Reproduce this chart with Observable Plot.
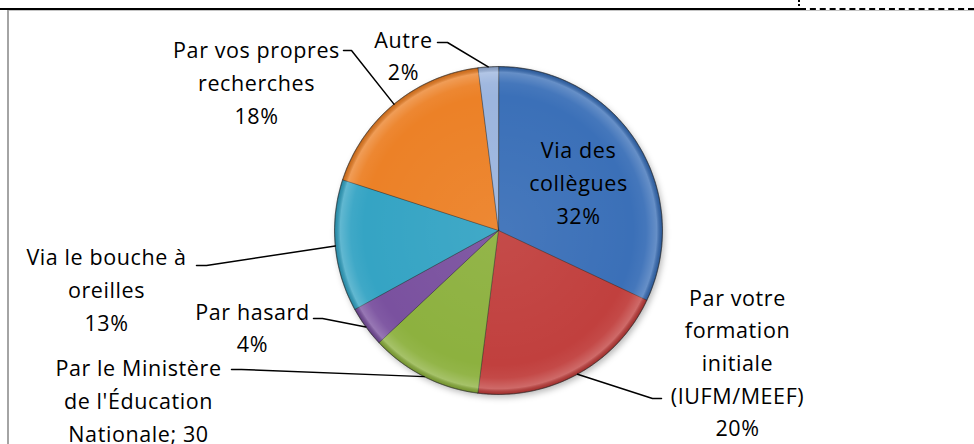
<!DOCTYPE html>
<html><head><meta charset="utf-8">
<script src="https://cdn.jsdelivr.net/npm/d3@7"></script>
<script src="https://cdn.jsdelivr.net/npm/@observablehq/plot@0.6"></script>
<style>
html,body{margin:0;padding:0;background:#fff;}
#wrap{position:relative;width:974px;height:444px;overflow:hidden;}
.fr{position:absolute;box-sizing:border-box;}
</style></head><body><div id="wrap"></div>
<script>
// ---- data ----
const categories = ["Via des collègues","Par votre formation initiale (IUFM/MEEF)","Par le Ministère de l'Éducation Nationale","Par hasard","Via le bouche à oreilles","Par vos propres recherches","Autre"];
const shares = [32, 20, 11, 4, 13, 18, 2];
const labelTexts = ["Via des\ncollègues\n32%","Par votre\nformation\ninitiale\n(IUFM/MEEF)\n20%","Par le Ministère\nde l'Éducation\nNationale; 30","Par hasard\n4%","Via le bouche à\noreilles\n13%","Par vos propres\nrecherches\n18%","Autre\n2%"];
const colors = ["#3b70b8","#c1403e","#8db13f","#7a519f","#35a4c4","#ec8127","#9cb5de"];

// ---- layout ----
const W = 974, H = 444, cx = 498, cy = 230, R = 164;
const labelPos = [[578,180],[737,360],[138,398],[252,325],[106,287],[256,80],[403,53]];
const leaderStart = [null,[661,398],[231,369],[313,318],[196,265],[343,50],[437,42]];
const leaderElbow = [null,[652,398],[241,369],[322,318],[206,265],[351,50],[447,42]];

const total = d3.sum(shares);
let acc = 0;
const slices = categories.map((c,i)=>{const a0 = acc/total*2*Math.PI; acc += shares[i]; const a1 = acc/total*2*Math.PI; return {c,i,a0,a1,am:(a0+a1)/2};});
const piePts = [];
for (const s of slices) {
  piePts.push({c:s.c, x:cx, y:cy});
  const n = Math.max(2, Math.ceil((s.a1-s.a0)/(Math.PI/360)));
  for (let k=0;k<=n;k++){const a = s.a0+(s.a1-s.a0)*k/n; piePts.push({c:s.c, x:cx+R*Math.sin(a), y:cy-R*Math.cos(a)});}
}
const leaderPts = [];
slices.forEach((s,i)=>{
  if(!leaderStart[i]) return;
  leaderPts.push({c:s.c,x:leaderStart[i][0],y:leaderStart[i][1]});
  leaderPts.push({c:s.c,x:leaderElbow[i][0],y:leaderElbow[i][1]});
  leaderPts.push({c:s.c,x:cx+R*Math.sin(s.am),y:cy-R*Math.cos(s.am)});
});
const labels = categories.map((c,i)=>({c, text:labelTexts[i], x:labelPos[i][0], y:labelPos[i][1]}));

const chart = Plot.plot({
  width: W, height: H, margin: 0,
  x: {type:"linear", domain:[0,W], range:[0,W], axis:null},
  y: {type:"linear", domain:[0,H], range:[0,H], axis:null},
  color: {domain: categories, range: colors},
  style: {background:"transparent", overflow:"visible"},
  marks: [
    Plot.dot([{x:cx,y:cy}], {x:"x", y:"y", r:R, dx:2, dy:3, fill:"#000", fillOpacity:0.28, stroke:"none"}),
    Plot.line(piePts, {x:"x", y:"y", z:"c", fill:"c", stroke:"#1a1a1a", strokeOpacity:0.45, strokeWidth:1, curve:"linear-closed"}),
    Plot.dot([{x:cx,y:cy}], {x:"x", y:"y", r:R, fill:"url(#bevel)", stroke:"#2a2a2a", strokeOpacity:0.35, strokeWidth:1}),
    Plot.line(leaderPts, {x:"x", y:"y", z:"c", stroke:"#000", strokeWidth:1.5}),
    Plot.text(labels, {x:"x", y:"y", text:"text", fontSize:21.5, lineHeight:1.52, fill:"#000", fontFamily:"'Open Sans', 'Noto Sans', sans-serif", textAnchor:"middle", lineAnchor:"middle"})
  ]
});
const svg = d3.select(chart);
svg.selectAll('g[aria-label="text"] text').style("letter-spacing","0.6px");
const defs = svg.insert("defs", ":first-child");
const g = defs.append("radialGradient").attr("id","bevel").attr("cx","50%").attr("cy","50%").attr("r","50%");
[[0,"#fff",0.06],[0.82,"#fff",0],[0.9,"#fff",0.05],[0.965,"#fff",0.22],[0.99,"#000",0.12],[1,"#000",0.25]].forEach(([o,c,a])=>g.append("stop").attr("offset",o).attr("stop-color",c).attr("stop-opacity",a));
const f = defs.append("filter").attr("id","blur").attr("x","-20%").attr("y","-20%").attr("width","140%").attr("height","140%");
f.append("feGaussianBlur").attr("stdDeviation",3);
svg.select('g[aria-label="dot"]').attr("filter","url(#blur)");

const wrap = document.getElementById("wrap");
wrap.appendChild(chart);
chart.style.position="absolute"; chart.style.left="0"; chart.style.top="0";
const frames = [
  "left:0;top:8px;width:799px;height:2px;background:#000;",
  "left:798px;top:0;width:2px;height:10px;border-left:2px dotted #000;",
  "left:800px;top:8px;width:174px;height:2px;border-top:2px dashed #000;",
  "left:7px;top:10px;width:967px;height:1px;background:#c4c4c4;",
  "left:7px;top:10px;width:2px;height:434px;background:#a4a4a4;"
];
for (const s of frames){const d=document.createElement("div"); d.className="fr"; d.style.cssText+=s; wrap.appendChild(d);}
</script></body></html>
